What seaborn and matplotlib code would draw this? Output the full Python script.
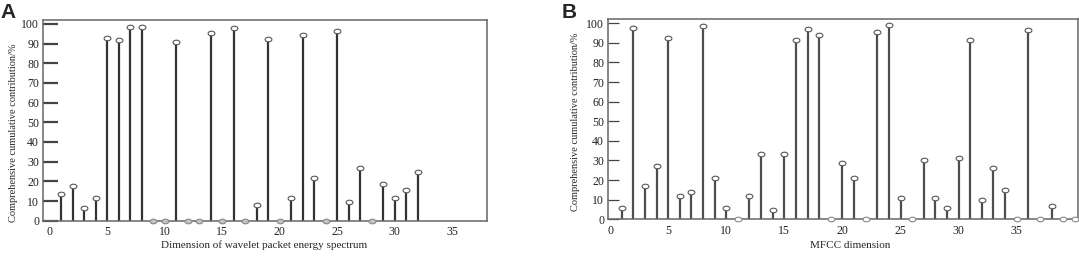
import matplotlib
matplotlib.use('Agg')
import matplotlib.pyplot as plt
import numpy as np
import pandas as pd
import seaborn as sns
from matplotlib.path import Path

# panel A: wavelet packet energy spectrum (32 dimensions)
wpe_dim = list(range(1, 33))
wpe_contrib = [13.5, 17.7, 6.3, 11.5, 93.0, 92.0, 98.5, 98.5, 0.0, 0.0,
               91.0, 0.0, 0.0, 95.3, 0.0, 97.7, 0.0, 8.2, 92.3, 0.0,
               11.5, 94.3, 21.8, 0.0, 96.3, 9.5, 27.0, 0.0, 18.7, 11.3,
               15.7, 25.0]

# panel B: MFCC (40 dimensions)
mfcc_dim = list(range(1, 41))
mfcc_contrib = [6.0, 97.8, 17.0, 27.0, 92.5, 11.8, 14.0, 98.8, 21.0, 6.0,
                0.0, 12.0, 33.5, 4.7, 33.5, 91.5, 96.8, 94.0, 0.0, 28.5,
                21.0, 0.0, 95.5, 99.3, 11.0, 0.0, 30.3, 11.0, 6.0, 31.5,
                91.5, 9.7, 26.3, 15.0, 0.0, 96.7, 0.0, 6.7, 0.0, 0.0]

x_ticks = list(range(0, 36, 5))
y_ticks = list(range(0, 101, 10))
y_label = 'Comprehensive cumulative contribution/%'

sns.set_style('ticks')
plt.rcParams['font.family'] = ['Liberation Serif', 'DejaVu Serif']

# slightly flattened circle, like the markers in the source figure
t = np.linspace(0, 2 * np.pi, 41)
ellipse = Path(np.column_stack([np.cos(t), 0.68 * np.sin(t)]), closed=True)


def stem_panel(ax, dims, vals, stem_color, zero_face, xlim, tick_len, tick_w):
    df = pd.DataFrame({'dim': dims, 'val': vals})
    ax.vlines(df['dim'], 0, df['val'], colors=stem_color, linewidth=1.6, zorder=2)
    nz = df[df['val'] > 0]
    z = df[df['val'] == 0]
    sns.scatterplot(data=nz, x='dim', y='val', ax=ax, marker=ellipse, s=24,
                    color='white', edgecolor='#555555', linewidth=0.8,
                    zorder=3, clip_on=False)
    sns.scatterplot(data=z, x='dim', y='val', ax=ax, marker=ellipse, s=24,
                    color=zero_face, edgecolor='#888888', linewidth=0.8,
                    zorder=3, clip_on=False)
    ax.set_xlim(*xlim)
    ax.set_ylim(0, 102)
    ax.set_xticks(x_ticks)
    ax.set_yticks(y_ticks)
    ax.tick_params(axis='x', length=0, pad=4, labelsize=8.5, colors='#222222')
    ax.tick_params(axis='y', direction='in', length=tick_len, width=tick_w,
                   color='#444444', pad=3, labelsize=8.5, labelcolor='#222222')
    for sp in ax.spines.values():
        sp.set_visible(True)
        sp.set_color('#666666')
        sp.set_linewidth(1.1)


fig = plt.figure(figsize=(10.79, 2.58), dpi=100)
axA = fig.add_axes([0.0401, 0.1446, 0.4115, 0.7779])
axB = fig.add_axes([0.5638, 0.1500, 0.4350, 0.7752])

stem_panel(axA, wpe_dim, wpe_contrib, '#333333', '#c4c4c4', (-0.58, 38.07), 11, 1.6)
stem_panel(axB, mfcc_dim, mfcc_contrib, '#4d4d4d', 'white', (-0.15, 40.25), 8, 0.9)

axA.set_xlabel('Dimension of wavelet packet energy spectrum', fontsize=8)
axA.set_ylabel(y_label, fontsize=7.5)
axA.xaxis.set_label_coords(0.497, -0.10)
axA.yaxis.set_label_coords(-0.056, 0.44)

axB.set_xlabel('MFCC dimension', fontsize=8)
axB.set_ylabel(y_label, fontsize=7.5)
axB.xaxis.set_label_coords(0.516, -0.107)
axB.yaxis.set_label_coords(-0.060, 0.488)

fig.text(0.0, 0.99, 'A', fontsize=15, fontweight='bold',
         family=['Liberation Sans', 'DejaVu Sans'], ha='left', va='top')
fig.text(0.5205, 0.99, 'B', fontsize=15, fontweight='bold',
         family=['Liberation Sans', 'DejaVu Sans'], ha='left', va='top')

fig.savefig('out.png', dpi=100)
